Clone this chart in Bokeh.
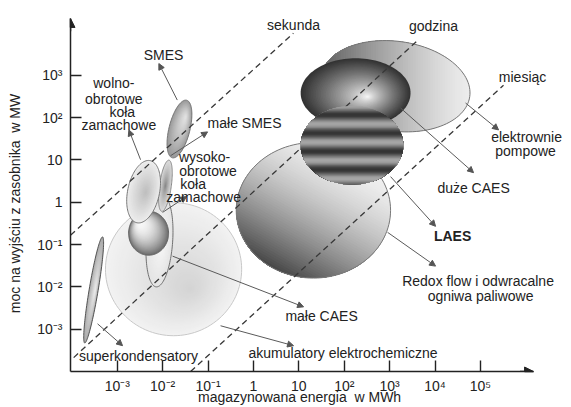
import numpy as np
from bokeh.plotting import figure
from bokeh.models import Range1d, FixedTicker, Label, Arrow, NormalHead
from bokeh.embed import file_html
from bokeh.resources import INLINE

# ---------------- data (log10 scale) ----------------
x_ticks = [-3, -2, -1, 0, 1, 2, 3, 4, 5]
x_tick_labels = ["10⁻³", "10⁻²", "10⁻¹", "1", "10", "10²", "10³", "10⁴", "10⁵"]
y_ticks = [-3, -2, -1, 0, 1, 2, 3]
y_tick_labels = ["10⁻³", "10⁻²", "10⁻¹", "1", "10", "10²", "10³"]

# storage technologies: centre (log10 MWh, log10 MW), half extents (decades), tilt (deg)
tech_names = ["akumulatory", "male_caes", "superkondensatory", "wysokoobrotowe",
              "srednie_kola", "wolnoobrotowe", "smes", "redox",
              "pompowe", "duze_caes", "laes"]
energy_center = [-1.76, -2.07, -3.52, -1.94, -2.31, -2.42, -1.63, 1.32, 3.13, 2.25, 2.17]
power_center = [-1.58, -0.92, -2.07, 0.39, -0.73, 0.25, 1.73, -0.19, 2.74, 2.58, 1.345]
energy_half = [1.50, 0.29, 0.099, 0.13, 0.44, 0.35, 0.23, 1.70, 1.65, 1.21, 1.13]
power_half = [1.57, 1.08, 1.27, 0.61, 0.52, 0.75, 0.70, 1.60, 1.06, 0.82, 0.93]
tilt_deg = [0, -4, -9.5, -8, 0, -12, -14, 0, -8, 0, 0]

# discharge-time lines (sekunda, godzina, miesiąc)
dur_names = ["sekunda", "godzina", "miesiąc"]
dur_e0 = [-4.03, -3.96, -1.385]
dur_p0 = [-0.78, -3.667, -3.995]
dur_e1 = [0.88, 3.615, 5.508]
dur_p1 = [3.99, 3.822, 2.763]

# ---------------- layout ----------------
W, H = 571, 407
BL, BB = 70, 35
FW, FH = W - BL, H - BB
X0, X_ARROW = -4.03, 6.17
Y0, Y_ARROW = -3.995, 4.34
SX = 45.4
SY = (FH - 18) / (Y_ARROW - Y0)
X1 = X0 + FW / SX
Y1 = Y0 + FH / SY
FONT = "Liberation Sans"
TXT = "#222222"

p = figure(width=W, height=H, x_range=Range1d(X0, X1), y_range=Range1d(Y0, Y1),
           output_backend="svg", toolbar_location=None,
           min_border_left=BL, min_border_right=0, min_border_top=0, min_border_bottom=BB)
p.outline_line_color = None
p.grid.visible = False
p.background_fill_color = "white"
p.border_fill_color = "white"

for ax, ticks, labels, bnds in ((p.xaxis, x_ticks, x_tick_labels, (X0, X_ARROW)),
                                (p.yaxis, y_ticks, y_tick_labels, (Y0, Y_ARROW))):
    ax.ticker = FixedTicker(ticks=ticks)
    ax.bounds = bnds
    ax.major_label_overrides = {t: l for t, l in zip(ticks, labels)}
    ax.minor_tick_line_color = None
    ax.major_tick_in = 11
    ax.major_tick_out = 0
    ax.axis_line_width = 1.5
    ax.axis_line_color = "#222222"
    ax.major_tick_line_width = 1.4
    ax.major_tick_line_color = "#222222"
    ax.major_label_text_font = FONT
    ax.major_label_text_font_size = "14px"
    ax.major_label_text_color = TXT
    ax.axis_label_text_font = FONT
    ax.axis_label_text_font_size = "14px"
    ax.axis_label_text_font_style = "normal"
    ax.axis_label_text_color = TXT

p.xaxis.major_label_text_line_height = 1.0
p.xaxis.axis_label_text_line_height = 1.0
p.xaxis.major_label_standoff = 6
p.xaxis.axis_label = "magazynowana energia\u00a0 w MWh" + "\u00a0" * 11
p.xaxis.axis_label_standoff = -8
p.yaxis.major_label_standoff = 8
p.yaxis.axis_label = "moc na wyjściu z zasobnika\u00a0 w MW" + "\u00a0" * 9
p.yaxis.axis_label_standoff = 11


def hx(c):
    c = c.lstrip("#")
    return np.array([int(c[i:i + 2], 16) for i in (0, 2, 4)], dtype=float)


def mix(c1, c2, t):
    t = min(max(t, 0.0), 1.0)
    r = hx(c1) * (1 - t) + hx(c2) * t
    return "#%02x%02x%02x" % tuple(int(round(v)) for v in r)


def rot(u, v, ang):
    a = np.radians(ang)
    return u * np.cos(a) - v * np.sin(a), u * np.sin(a) + v * np.cos(a)


TT = np.linspace(0, 2 * np.pi, 120, endpoint=False)


def outline(i, color, width=1.0):
    a, b = energy_half[i] * SX, power_half[i] * SY
    u, v = rot(a * np.cos(TT), b * np.sin(TT), tilt_deg[i])
    p.patch(energy_center[i] + u / SX, power_center[i] + v / SY,
            fill_color=None, line_color=color, line_width=width)


def radial(i, edge, center, focus=(0, 0), gamma=1.0, n=34):
    a, b = energy_half[i] * SX, power_half[i] * SY
    xs, ys, cols = [], [], []
    for k in range(n):
        s = 1 - k / n
        lu = a * (s * np.cos(TT) + (1 - s) * focus[0])
        lv = b * (s * np.sin(TT) + (1 - s) * focus[1])
        u, v = rot(lu, lv, tilt_deg[i])
        xs.append(list(energy_center[i] + u / SX))
        ys.append(list(power_center[i] + v / SY))
        cols.append(mix(center, edge, s ** gamma))
    p.patches(xs, ys, fill_color=cols, line_color=None)


def clip(poly, d, p0):
    out = []
    m = len(poly)
    for j in range(m):
        P, Q = poly[j], poly[(j + 1) % m]
        fp, fq = P @ d - p0, Q @ d - p0
        if fp >= 0:
            out.append(P)
        if (fp >= 0) != (fq >= 0):
            out.append(P + fp / (fp - fq) * (Q - P))
    return np.array(out)


def linear(i, direction, color_fn, n=50):
    a, b = energy_half[i] * SX, power_half[i] * SY
    u, v = rot(a * np.cos(TT), b * np.sin(TT), tilt_deg[i])
    poly = np.column_stack([u, v])
    d = np.array([np.cos(np.radians(direction)), np.sin(np.radians(direction))])
    R = np.max(poly @ d)
    xs, ys, cols = [], [], []
    for k in range(n):
        p0 = -R + 2 * R * k / n
        c = clip(poly, d, p0)
        if len(c) < 3:
            continue
        xs.append(list(energy_center[i] + c[:, 0] / SX))
        ys.append(list(power_center[i] + c[:, 1] / SY))
        cols.append(color_fn((p0 + R / n) / R))
    p.patches(xs, ys, fill_color=cols, line_color=None)


idx = {n: k for k, n in enumerate(tech_names)}

# --- left cluster ---
radial(idx["akumulatory"], "#f2f2f2", "#d3d3d3", focus=(0.25, -0.3), gamma=1.0)
outline(idx["akumulatory"], "#c8c8c8")
radial(idx["male_caes"], "#e4e4e4", "#fbfbfb", focus=(0.2, 0.0), gamma=0.8)
outline(idx["male_caes"], "#707070")
radial(idx["superkondensatory"], "#a9a9a9", "#ececec", focus=(0.35, 0.0), gamma=1.0)
outline(idx["superkondensatory"], "#555555")
radial(idx["wysokoobrotowe"], "#dcdcdc", "#7e7e7e", focus=(0.0, 0.0), gamma=0.7)
outline(idx["wysokoobrotowe"], "#8a8a8a")
radial(idx["srednie_kola"], "#6e6e6e", "#f8f8f8", focus=(-0.45, 0.5), gamma=2.0)
outline(idx["srednie_kola"], "#666666")
radial(idx["wolnoobrotowe"], "#ededed", "#bdbdbd", focus=(0.15, 0.0), gamma=1.0)
outline(idx["wolnoobrotowe"], "#777777")
radial(idx["smes"], "#999999", "#e2e2e2", focus=(0.3, 0.45), gamma=1.2)
outline(idx["smes"], "#777777")

# --- right cluster ---
linear(idx["redox"], 240, lambda t: mix("#f2f2f2", "#474747", ((t + 1) / 2) ** 1.6), n=60)
outline(idx["redox"], "#7a7a7a")
linear(idx["pompowe"], 180, lambda t: mix("#ececec", "#5e5e5e", ((t + 1) / 2) ** 1.3), n=60)
outline(idx["pompowe"], "#777777")
radial(idx["duze_caes"], "#333333", "#ffffff", focus=(0.22, -0.11), gamma=0.8, n=40)

# --- discharge-time lines ---
p.segment(x0=dur_e0, y0=dur_p0, x1=dur_e1, y1=dur_p1,
          line_color="#383838", line_width=1.3, line_dash="6 4")

linear(idx["laes"], 270,
       lambda t: mix("#a6a6a6", "#343434", 0.5 + 0.5 * np.cos(2 * np.pi * ((t + 1) - 0.228) / 0.463)),
       n=100)

# --- axis arrow heads ---
p.add_layout(Arrow(end=NormalHead(size=9, fill_color="#222222", line_color="#222222"),
                   x_start=X_ARROW - 0.3, y_start=Y0, x_end=X_ARROW, y_end=Y0,
                   line_color="#222222", line_width=1.5))
p.add_layout(Arrow(end=NormalHead(size=9, fill_color="#222222", line_color="#222222"),
                   x_start=X0, y_start=Y_ARROW - 0.3, x_end=X0, y_end=Y_ARROW,
                   line_color="#222222", line_width=1.5))

# --- pointer arrows (start on shape, head at label) ---
pointers = [
    (-1.678, 2.413, -2.084, 3.275),   # SMES
    (-2.487, 1.005, -2.744, 1.709),   # wolnoobrotowe
    (-1.826, 1.099, -1.011, 1.662),   # małe SMES
    (-2.002, -0.239, -1.474, 0.136),  # wysokoobrotowe
    (-3.434, -2.869, -2.883, -3.385), # superkondensatory
    (-1.781, -1.272, 1.104, -2.469),  # małe CAES
    (-0.725, -2.915, 0.883, -3.385),  # akumulatory
    (3.240, 2.225, 4.848, 0.700),     # duże CAES
    (4.672, 2.343, 5.399, 1.709),     # elektrownie pompowe
    (3.020, 0.606, 4.011, -0.568),    # LAES
    (2.954, -0.709, 4.011, -1.507),   # Redox
]
for xs_, ys_, xe_, ye_ in pointers:
    p.add_layout(Arrow(end=NormalHead(size=6, fill_color="#555555", line_color="#555555", line_width=1),
                       x_start=xs_, y_start=ys_, x_end=xe_, y_end=ye_,
                       line_color="#5a5a5a", line_width=1))

# --- text labels ---
labels = [
    ("SMES", -1.980, 3.469, "normal"),
    ("wolno-", -3.075, 2.805, "normal"),
    ("obrotowe", -3.075, 2.437, "normal"),
    ("koła", -2.890, 2.139, "normal"),
    ("zamachowe", -2.965, 1.826, "normal"),
    ("małe SMES", -0.196, 1.873, "normal"),
    ("wysoko-", -1.077, 1.075, "normal"),
    ("obrotowe", -1.000, 0.746, "normal"),
    ("koła", -1.330, 0.441, "normal"),
    ("zamachowe", -1.099, 0.136, "normal"),
    ("sekunda", 0.883, 4.197, "normal"),
    ("godzina", 3.965, 4.150, "normal"),
    ("miesiąc", 5.927, 2.953, "normal"),
    ("elektrownie", 6.015, 1.552, "normal"),
    ("pompowe", 5.993, 1.200, "normal"),
    ("duże CAES", 4.848, 0.340, "normal"),
    ("LAES", 4.386, -0.796, "bold"),
    ("Redox flow i odwracalne", 4.947, -1.852, "normal"),
    ("ogniwa paliwowe", 5.002, -2.204, "normal"),
    ("małe CAES", 1.500, -2.681, "normal"),
    ("superkondensatory", -2.531, -3.620, "normal"),
    ("akumulatory elektrochemiczne", 1.974, -3.549, "normal"),
]
for txt, lx, ly, st in labels:
    p.add_layout(Label(x=lx, y=ly, text=txt, text_font=FONT, text_font_size="14px",
                       text_color=TXT, text_align="center", text_baseline="middle",
                       text_font_style=st))

open("out.html", "w").write(file_html(p, INLINE))
